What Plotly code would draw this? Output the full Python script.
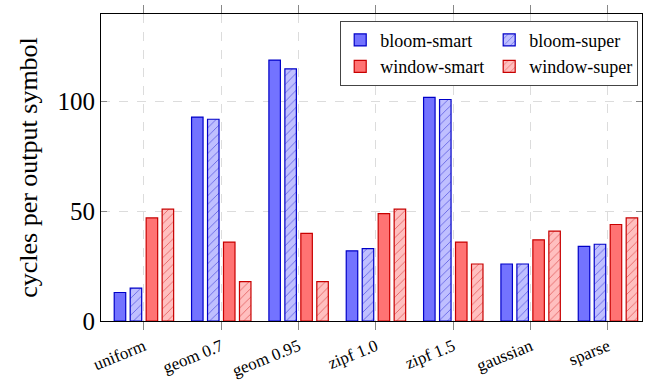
import plotly.graph_objects as go

categories = ["uniform", "geom 0.7", "geom 0.95", "zipf 1.0", "zipf 1.5", "gaussian", "sparse"]
bloom_smart = [13, 93, 119, 32, 102, 26, 34]
bloom_super = [15, 92, 115, 33, 101, 26, 35]
window_smart = [47, 36, 40, 49, 36, 37, 44]
window_super = [51, 18, 18, 51, 26, 41, 47]
y_ticks = [0, 50, 100]

FONT = "Times New Roman, Liberation Serif, Times, serif"
BLUE_D = "#0000c8"
RED_D = "#c80000"

series = [
    ("bloom-smart", bloom_smart, "#7373ff", BLUE_D, "", "smart"),
    ("bloom-super", bloom_super, "#bfbfff", BLUE_D, "/", "super"),
    ("window-smart", window_smart, "#ff7373", RED_D, "", "smart"),
    ("window-super", window_super, "#ffbfbf", RED_D, "/", "super"),
]

fig = go.Figure()
for name, vals, fill, edge, pat, grp in series:
    fig.add_trace(go.Bar(
        x=categories, y=vals, name=name, legendgroup=grp,
        marker=dict(color=fill, line=dict(color=edge, width=1.2),
                    pattern=dict(shape=pat, fgcolor=edge, bgcolor=fill, size=6, solidity=0.14)),
    ))

fig.update_layout(
    width=648, height=385,
    margin=dict(l=101, r=5, t=11, b=51),
    paper_bgcolor="white", plot_bgcolor="white",
    barmode="group", bargap=0.174, bargroupgap=0.28,
    font=dict(family=FONT, color="black"),
    showlegend=True,
    legend=dict(
        orientation="h", x=0.993, xanchor="right", y=0.978, yanchor="top",
        bordercolor="#444", borderwidth=1, bgcolor="white",
        font=dict(family=FONT, size=18), traceorder="grouped", tracegroupgap=10,
    ),
)
fig.update_xaxes(
    range=[-0.555, 6.44], showline=True, linecolor="black", linewidth=1.2, mirror="ticks",
    ticks="outside", ticklen=8, tickcolor="#888", tickangle=-22,
    tickfont=dict(family=FONT, size=17),
    showgrid=True, gridcolor="#dcdcdc", griddash="dash", gridwidth=1,
)
fig.update_yaxes(
    range=[0, 140], tickvals=y_ticks, showline=True, linecolor="black", linewidth=1.2, mirror="ticks",
    ticks="inside", ticklen=6, tickcolor="#888",
    tickfont=dict(family=FONT, size=25),
    showgrid=True, gridcolor="#dcdcdc", griddash="dash", gridwidth=1, zeroline=False,
    title=dict(text="cycles per output symbol", font=dict(family=FONT, size=26), standoff=12),
)

fig.write_html("out.html", config={"displayModeBar": False},
               post_script="document.body.style.margin='0';")
